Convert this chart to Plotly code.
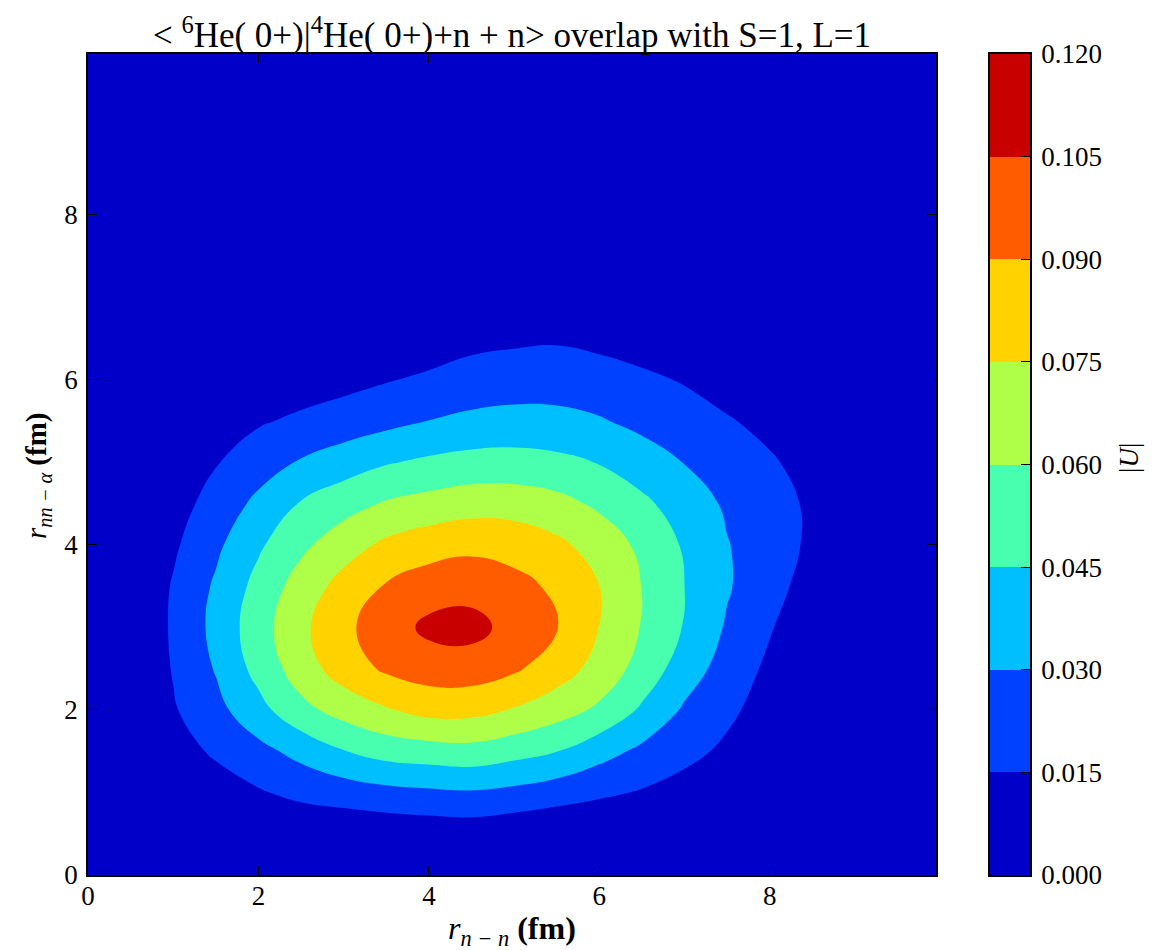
import plotly.graph_objects as go

# ---------------- data ----------------
r_nn = [0.0, 0.5, 1.0, 1.5, 2.0, 2.5, 3.0, 3.5, 4.0, 4.5, 5.0,
        5.5, 6.0, 6.5, 7.0, 7.5, 8.0, 8.5, 9.0, 9.5, 10.0]          # r_{n-n} (fm)
r_nn_alpha = [0.0, 0.5, 1.0, 1.5, 2.0, 2.5, 3.0, 3.5, 4.0, 4.5, 5.0,
              5.5, 6.0, 6.5, 7.0, 7.5, 8.0, 8.5, 9.0, 9.5, 10.0]    # r_{nn-alpha} (fm)

# |U| on the grid, one row per r_{nn-alpha} value, columns follow r_nn
u_y00 = [0] * 21
u_y05 = [0, 0, 0, 0, 0, 0.002, 0.003, 0.004, 0.0052, 0.0059, 0.0033, 0.001, 0, 0, 0, 0, 0, 0, 0, 0, 0]
u_y10 = [0, 0, 0.003, 0.008, 0.0136, 0.019, 0.0223, 0.0256, 0.0275, 0.0287, 0.0262, 0.0222, 0.0178, 0.0138, 0.009, 0.005, 0.002, 0, 0, 0, 0]
u_y15 = [0, 0, 0.0087, 0.0172, 0.0256, 0.0347, 0.0444, 0.051, 0.0533, 0.0548, 0.0505, 0.0454, 0.0357, 0.0268, 0.0194, 0.0121, 0.0047, 0, 0, 0, 0]
u_y20 = [0, 0.0017, 0.0136, 0.0255, 0.0401, 0.0557, 0.0657, 0.0737, 0.080, 0.0795, 0.0739, 0.0663, 0.0574, 0.0428, 0.028, 0.0182, 0.0083, 0, 0, 0, 0]
u_y25 = [0, 0.0009, 0.0159, 0.0311, 0.050, 0.0675, 0.0824, 0.0923, 0.0972, 0.0976, 0.0921, 0.0824, 0.0694, 0.0544, 0.0375, 0.0237, 0.012, 0.0003, 0, 0, 0]
u_y30 = [0, 0.0005, 0.017, 0.0342, 0.0535, 0.0715, 0.0868, 0.0975, 0.1085, 0.110, 0.0997, 0.0904, 0.0747, 0.0591, 0.044, 0.0283, 0.0162, 0.0041, 0, 0, 0]
u_y35 = [0, 0.0007, 0.0162, 0.0321, 0.0498, 0.0666, 0.0802, 0.0912, 0.0976, 0.0995, 0.0942, 0.0875, 0.075, 0.0597, 0.045, 0.0314, 0.0201, 0.0091, 0, 0, 0]
u_y40 = [0, 0, 0.0127, 0.0271, 0.0428, 0.0567, 0.0685, 0.078, 0.0834, 0.0863, 0.0845, 0.0782, 0.069, 0.0567, 0.0433, 0.0307, 0.0216, 0.0124, 0.0033, 0, 0]
u_y45 = [0, 0, 0.0086, 0.0209, 0.0335, 0.0461, 0.0542, 0.0615, 0.0653, 0.0686, 0.0682, 0.0647, 0.0573, 0.0482, 0.0379, 0.0279, 0.0203, 0.0127, 0.0051, 0, 0]
u_y50 = [0, 0, 0.0052, 0.0141, 0.0231, 0.0314, 0.0376, 0.0439, 0.0477, 0.0504, 0.0508, 0.0487, 0.0444, 0.037, 0.0296, 0.0231, 0.0166, 0.010, 0.0036, 0, 0]
u_y55 = [0, 0, 0.004, 0.0094, 0.0135, 0.0177, 0.0219, 0.026, 0.0303, 0.0333, 0.0349, 0.0342, 0.0313, 0.0262, 0.0212, 0.0162, 0.0112, 0.0062, 0.0012, 0, 0]
u_y60 = [0, 0, 0, 0.002, 0.005, 0.0078, 0.0104, 0.0141, 0.0178, 0.0214, 0.0228, 0.0232, 0.0211, 0.0177, 0.014, 0.009, 0.004, 0.001, 0, 0, 0]
u_y65 = [0, 0, 0, 0, 0, 0, 0.003, 0.004, 0.006, 0.0107, 0.0125, 0.0134, 0.0113, 0.0085, 0.005, 0.002, 0, 0, 0, 0, 0]
u_y70 = [0, 0, 0, 0, 0, 0, 0, 0.001, 0.002, 0.004, 0.005, 0.006, 0.004, 0.002, 0.001, 0, 0, 0, 0, 0, 0]
u_y75 = [0] * 21
u_y80 = [0] * 21
u_y85 = [0] * 21
u_y90 = [0] * 21
u_y95 = [0] * 21
u_y100 = [0] * 21

u_rows = [u_y00, u_y05, u_y10, u_y15, u_y20, u_y25, u_y30, u_y35, u_y40, u_y45, u_y50,
          u_y55, u_y60, u_y65, u_y70, u_y75, u_y80, u_y85, u_y90, u_y95, u_y100]

# contour levels and tick labels
levels = [0.000, 0.015, 0.030, 0.045, 0.060, 0.075, 0.090, 0.105, 0.120]
level_labels = ["0.000", "0.015", "0.030", "0.045", "0.060", "0.075", "0.090", "0.105", "0.120"]
axis_ticks = [0, 2, 4, 6, 8]

# jet colours of the 8 bands
band_colors = ["rgb(0,0,200)", "rgb(0,64,255)", "rgb(0,191,255)", "rgb(72,255,175)",
               "rgb(175,255,72)", "rgb(255,210,0)", "rgb(255,92,0)", "rgb(200,0,0)"]

# ---------------- geometry (screen pixels of the reference) ----------------
OFF = 8                       # page body margin
W, H = 1166 - OFF, 950 - OFF
PL, PR, PT, PB = 88, 1030, 54, 875      # paper region (plot + colorbar), screen px
PLOT_R = 936                            # right edge of the contour panel
CB_L = 990                              # left edge of the colour bar
pw, ph = PR - PL, PB - PT

def px_x(p):
    return (p - PL) / pw

def px_y(p):
    return (PB - p) / ph

FONT = "Liberation Serif"

# ---------------- figure ----------------
n_lev = len(levels)
scale = [[0.0, band_colors[0]]]
for k, c in enumerate(band_colors):
    scale.append([(k + 1) / n_lev, c])
scale.append([1.0, band_colors[-1]])

fig = go.Figure()
fig.add_trace(go.Contour(
    x=r_nn, y=r_nn_alpha, z=u_rows,
    colorscale=scale, showscale=False,
    autocontour=False,
    contours=dict(start=levels[0], end=levels[-1], size=levels[1] - levels[0],
                  coloring="fill", showlines=False),
    line=dict(width=0, smoothing=1.3),
    hoverinfo="skip",
    xaxis="x", yaxis="y",
))

# colour bar built from the same levels: one brick per band
nb = len(band_colors)
step_scale = []
for k, c in enumerate(band_colors):
    step_scale.append([k / nb, c])
    step_scale.append([(k + 1) / nb, c])
mids = [[(levels[k] + levels[k + 1]) / 2] for k in range(nb)]
fig.add_trace(go.Heatmap(
    x=[0, 1], y=levels, z=mids,
    colorscale=step_scale, zmin=levels[0], zmax=levels[-1],
    showscale=False, hoverinfo="skip",
    xaxis="x2", yaxis="y2",
))

axis_common = dict(
    range=[0, 9.95], tickmode="array", tickvals=axis_ticks,
    ticks="inside", ticklen=9, tickwidth=1.2, tickcolor="black",
    showline=True, linecolor="black", linewidth=1.6, mirror="allticks",
    showgrid=False, zeroline=False,
    tickfont=dict(family=FONT, size=27, color="black"),
)

fig.update_layout(
    width=W, height=H,
    margin=dict(l=PL - OFF, r=W - (PR - OFF), t=PT - OFF, b=H - (PB - OFF), autoexpand=False),
    paper_bgcolor="white", plot_bgcolor="white",
    xaxis=dict(axis_common, domain=[0, px_x(PLOT_R)], anchor="y", ticklabelstandoff=-4),
    yaxis=dict(axis_common, domain=[0, 1], anchor="x", ticklabelstandoff=3),
    xaxis2=dict(domain=[px_x(CB_L), 1], anchor="y2", range=[0, 1],
                showticklabels=False, ticks="", showgrid=False, zeroline=False,
                showline=True, linecolor="black", linewidth=1.6, mirror=True),
    yaxis2=dict(domain=[0, 1], anchor="x2", side="right", range=[levels[0], levels[-1]],
                tickmode="array", tickvals=levels, ticktext=level_labels,
                ticks="inside", ticklen=9, tickwidth=1.2, tickcolor="black",
                showgrid=False, zeroline=False,
                showline=True, linecolor="black", linewidth=1.6, mirror=True,
                tickfont=dict(family=FONT, size=27, color="black"),
                ticklabelstandoff=4),
    title=dict(
        text="&lt; <sup>6</sup>He( 0+)|<sup>4</sup>He( 0+)+n + n&gt; overlap with S=1, L=1",
        x=px_x(512), xref="paper", xanchor="center",
        y=1 - (35 - OFF) / H, yref="container", yanchor="middle",
        font=dict(family=FONT, size=35, color="black"),
    ),
    annotations=[
        dict(text="<i>r</i><sub><i>n − n</i></sub> <b>(fm)</b>",
             x=px_x(512), y=px_y(931), xref="paper", yref="paper",
             xanchor="center", yanchor="middle", showarrow=False,
             font=dict(family=FONT, size=32, color="black")),
        dict(text="<i>r</i><sub><i>nn − α</i></sub> <b>(fm)</b>",
             x=px_x(38), y=px_y(476), xref="paper", yref="paper",
             xanchor="center", yanchor="middle", showarrow=False, textangle=-90,
             font=dict(family=FONT, size=29, color="black")),
        dict(text="|<i>U</i>|",
             x=px_x(1129), y=px_y(458), xref="paper", yref="paper",
             xanchor="center", yanchor="middle", showarrow=False, textangle=-90,
             font=dict(family=FONT, size=27, color="black")),
    ],
)

fig.write_html("out.html")
